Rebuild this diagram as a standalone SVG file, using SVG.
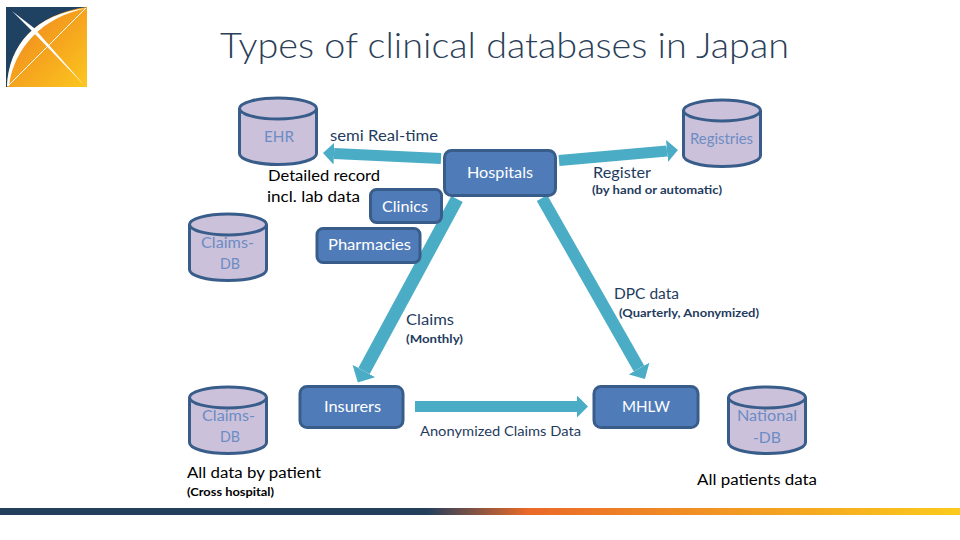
<svg xmlns="http://www.w3.org/2000/svg" width="960" height="540" viewBox="0 0 960 540">
<style>
text{font-family:Lato,"Open Sans","Liberation Sans",sans-serif;font-size:15.500px}
.box{fill:#4f7cb8;stroke:#385d8a;stroke-width:3}
.cyl{fill:#ccc1da;stroke:#385d8a;stroke-width:3}
.w{fill:#fff}
.c{fill:#6b8cc4}
.n{fill:#1f3c5e}
.k{fill:#000}
.s{font-size:12px;font-weight:700}
.a{stroke:#4bacc6;stroke-width:11;fill:none;marker-end:url(#h)}
.t{stroke-width:13}
</style>
<defs>
<marker id="h" viewBox="0 0 1 2" markerWidth="1" markerHeight="2" refX="0" refY="1" orient="auto" markerUnits="strokeWidth"><path d="M0 0L1 1L0 2z" fill="#4bacc6"/></marker>
<linearGradient id="bar" x1="0" x2="1" y1="0" y2="0"><stop offset="0" stop-color="#243f5c"/><stop offset=".445" stop-color="#243f5c"/><stop offset=".55" stop-color="#ea6a28"/><stop offset="1" stop-color="#fbcb1c"/></linearGradient>
<linearGradient id="lg" x1="0" y1="0" x2="1" y2="1"><stop offset="0" stop-color="#ee7f1e"/><stop offset="1" stop-color="#fcc61e"/></linearGradient>
<g id="logo">
<rect x="6" y="7" width="81" height="80" fill="#1f4263"/>
<path d="M7 87C9 45 35 14 87 7V87z" fill="url(#lg)"/>
<path d="M7 86C9 45 35 14 87 8C42 17 14 48 9 86z" fill="#fff"/>
<path d="M12 11L34 28L85 86L32 31z" fill="#fff"/>
<path d="M8 86L86 8" stroke="#fff" stroke-width="1"/>
</g>
</defs>
<use href="#logo"/>
<text id="title" x="220" y="58" textLength="569" lengthAdjust="spacingAndGlyphs" style="font-size:36px;font-weight:300" fill="#2b4058">Types of clinical databases in Japan</text>
<g id="connectors">
<line class="a" x1="441" y1="158.500" x2="334" y2="153.500"/>
<line class="a" x1="559" y1="160.500" x2="667" y2="151"/>
<line class="a t" x1="457" y1="199" x2="364" y2="371"/>
<line class="a" style="stroke-width:12" x1="542" y1="198" x2="639" y2="368.500"/>
<line class="a" x1="415" y1="406.500" x2="577" y2="406.500"/>
</g>
<g id="ehr"><path class="cyl" d="M239.500 108.500V153.500C239.500 159.500 256 164.500 278 164.500S316.500 159.500 316.500 153.500V108.500"/><ellipse class="cyl" cx="278" cy="108.500" rx="38.500" ry="10.500"/><text class="c" x="264" y="142" textLength="30" lengthAdjust="spacingAndGlyphs">EHR</text></g>
<g id="registries"><path class="cyl" d="M683.500 110.500V155.500C683.500 161.500 700 166.500 722 166.500S760.500 161.500 760.500 155.500V110.500"/><ellipse class="cyl" cx="722" cy="110.500" rx="38.500" ry="10.500"/><text class="c" x="690" y="144" textLength="63" lengthAdjust="spacingAndGlyphs">Registries</text></g>
<g id="claims-db-1"><path class="cyl" d="M189.500 224.500V269.500C189.500 275.500 206 280.500 228 280.500S266.500 275.500 266.500 269.500V224.500"/><ellipse class="cyl" cx="228" cy="224.500" rx="38.500" ry="10.500"/><text class="c" x="201" y="248" textLength="53" lengthAdjust="spacingAndGlyphs">Claims-</text><text class="c" x="220" y="269" textLength="20" lengthAdjust="spacingAndGlyphs">DB</text></g>
<g id="claims-db-2"><path class="cyl" d="M189.500 397.500V442.500C189.500 448.500 206 453.500 228 453.500S266.500 448.500 266.500 442.500V397.500"/><ellipse class="cyl" cx="228" cy="397.500" rx="38.500" ry="10.500"/><text class="c" x="202" y="421" textLength="53" lengthAdjust="spacingAndGlyphs">Claims-</text><text class="c" x="220" y="442" textLength="20" lengthAdjust="spacingAndGlyphs">DB</text></g>
<g id="national-db"><path class="cyl" d="M728.500 397.500V442.500C728.500 448.500 745 453.500 767 453.500S805.500 448.500 805.500 442.500V397.500"/><ellipse class="cyl" cx="767" cy="397.500" rx="38.500" ry="10.500"/><text class="c" x="737" y="421" textLength="60" lengthAdjust="spacingAndGlyphs">National</text><text class="c" x="753" y="443" textLength="28" lengthAdjust="spacingAndGlyphs">-DB</text></g>
<g id="hospitals"><rect class="box" x="444.500" y="150.500" width="111" height="45" rx="7"/><text class="w" x="467" y="178" textLength="66" lengthAdjust="spacingAndGlyphs">Hospitals</text></g>
<g id="clinics"><rect class="box" x="370.500" y="189.500" width="71" height="33" rx="6"/><text class="w" x="382" y="212" textLength="46" lengthAdjust="spacingAndGlyphs">Clinics</text></g>
<g id="pharmacies"><rect class="box" x="317" y="228.500" width="103" height="34" rx="6"/><text class="w" x="328" y="250" textLength="83" lengthAdjust="spacingAndGlyphs">Pharmacies</text></g>
<g id="insurers"><rect class="box" x="300" y="386.500" width="103" height="41" rx="7"/><text class="w" x="324" y="412" textLength="57" lengthAdjust="spacingAndGlyphs">Insurers</text></g>
<g id="mhlw"><rect class="box" x="594" y="386.500" width="104" height="41" rx="7"/><text class="w" x="622" y="412" textLength="48" lengthAdjust="spacingAndGlyphs">MHLW</text></g>
<g id="labels">
<text class="n" x="330" y="141" textLength="108" lengthAdjust="spacingAndGlyphs">semi Real-time</text>
<text class="k" x="268" y="181" textLength="112" lengthAdjust="spacingAndGlyphs">Detailed record</text>
<text class="k" x="267" y="202" textLength="93" lengthAdjust="spacingAndGlyphs">incl. lab data</text>
<text class="n" x="593" y="178" textLength="58" lengthAdjust="spacingAndGlyphs">Register</text>
<text class="n s" x="592" y="194" textLength="130" lengthAdjust="spacingAndGlyphs">(by hand or automatic)</text>
<text class="n" x="614" y="299" textLength="65" lengthAdjust="spacingAndGlyphs">DPC data</text>
<text class="n s" x="619" y="317" textLength="140" lengthAdjust="spacingAndGlyphs">(Quarterly, Anonymized)</text>
<text class="n" x="406" y="325" textLength="48" lengthAdjust="spacingAndGlyphs">Claims</text>
<text class="n s" x="406" y="343" textLength="57" lengthAdjust="spacingAndGlyphs">(Monthly)</text>
<text class="n" x="420" y="436" textLength="161" lengthAdjust="spacingAndGlyphs" style="font-size:14px">Anonymized Claims Data</text>
<text class="k" x="187" y="478" textLength="134" lengthAdjust="spacingAndGlyphs">All data by patient</text>
<text class="k s" x="187" y="496" textLength="87" lengthAdjust="spacingAndGlyphs">(Cross hospital)</text>
<text class="k" x="697" y="485" textLength="120" lengthAdjust="spacingAndGlyphs">All patients data</text>
</g>
<rect id="footer" x="0" y="508" width="960" height="7" fill="url(#bar)"/>
</svg>
